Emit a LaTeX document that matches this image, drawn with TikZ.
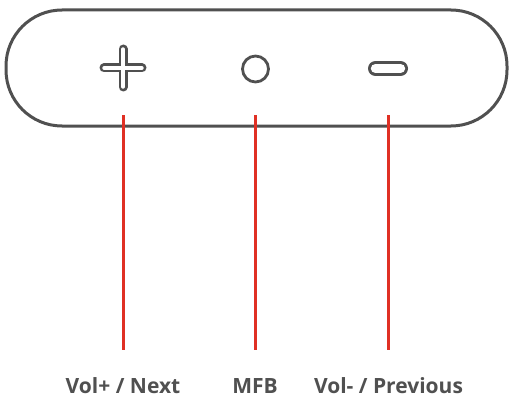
\documentclass[tikz,border=0pt]{standalone}
\usepackage{fontspec}
\setmainfont{Open Sans}
\definecolor{body}{HTML}{505050}
\definecolor{lead}{HTML}{E03024}
\definecolor{txt}{HTML}{505050}
\begin{document}
\begin{tikzpicture}[x=1pt,y=-1pt,
  outline/.style={draw=body,line width=3pt},
  leader/.style={draw=lead,line width=3pt},
  lbl/.style={text=txt,font=\bfseries\fontsize{21}{24}\selectfont,anchor=south,inner sep=0pt}]
\useasboundingbox (0,0) rectangle (509,396);
% casing
\draw[outline,rounded corners=56pt] (6,10) rectangle (507,126);
% plus button
\draw[body,line width=9pt,line cap=round] (104,68) -- (142,68) (123,49) -- (123,87);
\draw[white,line width=3.4pt,line cap=round] (104,68) -- (142,68) (123,49) -- (123,87);
% circle button
\node[outline,circle,minimum size=26pt,inner sep=0pt,line width=2.8pt] (mfb) at (255.5,69) {};
% minus button
\draw[body,line width=15pt,line cap=round] (375.5,68.5) -- (400.5,68.5);
\draw[white,line width=9.4pt,line cap=round] (375.5,68.5) -- (400.5,68.5);
% labels
\node[lbl] (l1) at (123,393.5) {Vol+ / Next};
\node[lbl] (l2) at (255,393.5) {MFB\vphantom{/}};
\node[lbl] (l3) at (388.5,393.5) {Vol- / Previous};
% leaders
\coordinate (t1) at (123,115);
\coordinate (t2) at (255,115);
\coordinate (t3) at (388,115);
\coordinate (b1) at (123,350);
\coordinate (b2) at (255,350);
\coordinate (b3) at (388,350);
\draw[leader] (t1) -- (b1);
\draw[leader] (t2) -- (b2);
\draw[leader] (t3) -- (b3);
\end{tikzpicture}
\end{document}
